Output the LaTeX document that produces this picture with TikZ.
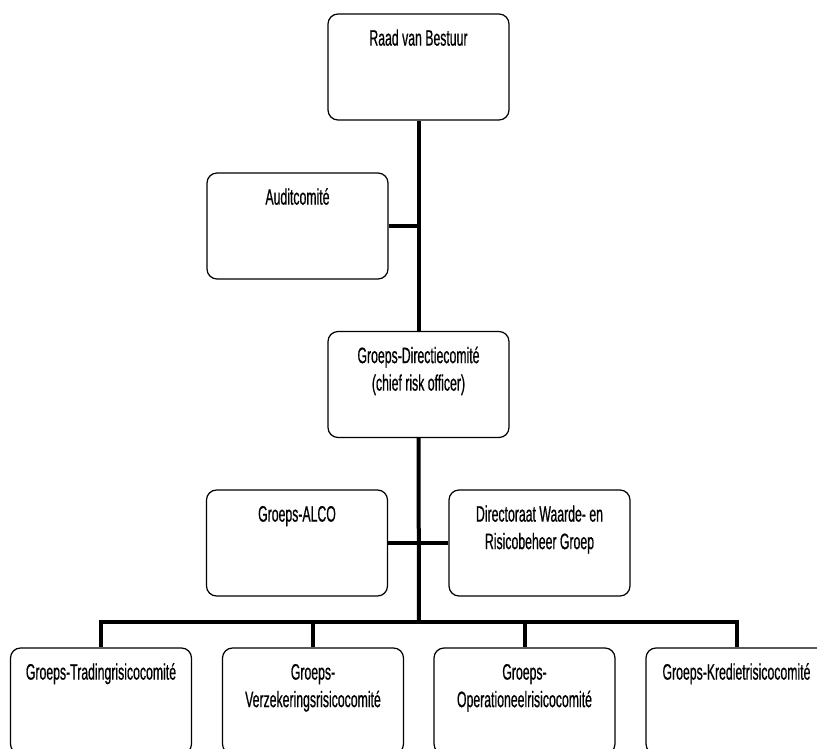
\documentclass[tikz,border=0pt]{standalone}
\usepackage{fontspec}
\setmainfont{Liberation Sans}[FakeStretch=0.55,FakeBold=0.6]
\begin{document}
\begin{tikzpicture}[x=1pt,y=-1pt,
  box/.style={draw=black, line width=1.2pt, rounded corners=10pt, fill=white,
    minimum width=181pt, minimum height=106pt, inner sep=0pt},
  lbl/.style={anchor=north, inner sep=0pt, align=center,
    font=\fontsize{22.3}{27.5}\selectfont},
  conn/.style={draw=black, line width=4pt}]
\useasboundingbox (0,0) rectangle (817,749);
\clip (0,0) rectangle (817,749);
\fill[white] (0,0) rectangle (817,749);
% coordinates
\coordinate (busY) at (419,622);
\coordinate (busL) at (101,622);
\coordinate (busR) at (736.5,622);
\coordinate (bus2) at (313,622);
\coordinate (bus3) at (524.5,622);
% boxes
\node[box] (raad) at (418.5,67) {};
\node[box] (audit) at (297.5,226) {};
\node[box] (direc) at (418.5,384.5) {};
\node[box] (alco) at (297,543) {};
\node[box] (wr) at (539.5,543) {};
\node[box] (b1) at (101,701) {};
\node[box] (b2) at (313,701) {};
\node[box] (b3) at (524.5,701) {};
\node[box] (b4) at (736.5,701) {};
% connectors
\draw[conn] (raad.south) -- (direc.north);
\draw[conn] (audit.east) -- (audit.east -| raad.south);
\draw[conn] (direc.south) -- (busY);
\draw[conn] (alco.east) -- (wr.west);
\draw[conn, line cap=rect] (busL) -- (busR);
\draw[conn] (busL) -- (b1.north);
\draw[conn] (bus2) -- (b2.north);
\draw[conn] (bus3) -- (b3.north);
\draw[conn] (busR) -- (b4.north);
% labels
\node[lbl] (traad) at ([yshift=-12.75pt]raad.north) {\strut Raad van Bestuur};
\node[lbl] (taudit) at ([yshift=-12.75pt]audit.north) {\strut Auditcomité};
\node[lbl] (tdirec) at ([yshift=-12.75pt]direc.north) {\strut Groeps-Directiecomité\\\strut (chief risk officer)};
\node[lbl] (talco) at ([yshift=-12.75pt]alco.north) {\strut Groeps-ALCO};
\node[lbl] (twr) at ([yshift=-12.75pt]wr.north) {\strut Directoraat Waarde- en\\\strut Risicobeheer Groep};
\node[lbl] (tb1) at ([yshift=-12.75pt]b1.north) {\strut Groeps-Tradingrisicocomité};
\node[lbl] (tb2) at ([yshift=-12.75pt]b2.north) {\strut Groeps-\\\strut Verzekeringsrisicocomité};
\node[lbl] (tb3) at ([yshift=-12.75pt]b3.north) {\strut Groeps-\\\strut Operationeelrisicocomité};
\node[lbl] (tb4) at ([yshift=-12.75pt]b4.north) {\strut Groeps-Kredietrisicocomité};
\end{tikzpicture}
\end{document}
